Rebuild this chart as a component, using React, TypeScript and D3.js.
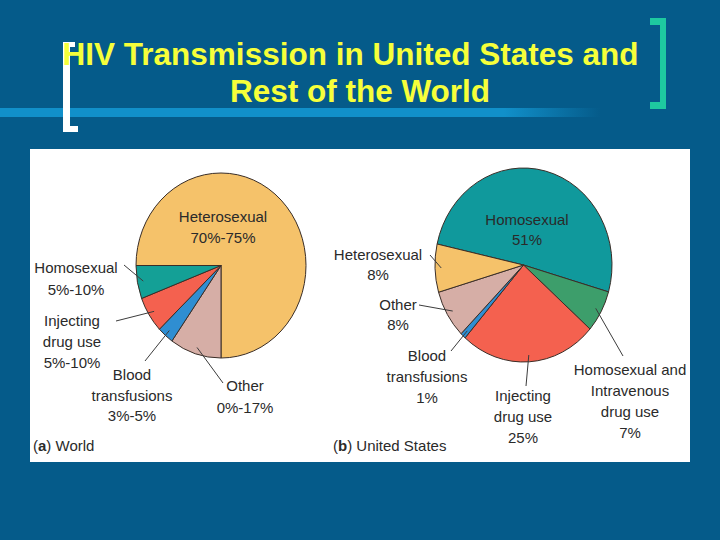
import React from "react";
import * as d3 from "d3";

// ---- Data ----
const titleLines = ["HIV Transmission in United States and", "Rest of the World"];

const worldCategories = ["Heterosexual", "Other", "Blood transfusions", "Injecting drug use", "Homosexual"];
const worldValues = [75, 9.8, 3.1, 6.3, 5.8];
const worldLabels = [
  ["Heterosexual", "70%-75%"],
  ["Other", "0%-17%"],
  ["Blood", "transfusions", "3%-5%"],
  ["Injecting", "drug use", "5%-10%"],
  ["Homosexual", "5%-10%"],
];

const usCategories = [
  "Homosexual",
  "Homosexual and Intravenous drug use",
  "Injecting drug use",
  "Blood transfusions",
  "Other",
  "Heterosexual",
];
const usValues = [51, 7, 25, 1, 8, 8];
const usLabels = [
  ["Homosexual", "51%"],
  ["Homosexual and", "Intravenous", "drug use", "7%"],
  ["Injecting", "drug use", "25%"],
  ["Blood", "transfusions", "1%"],
  ["Other", "8%"],
  ["Heterosexual", "8%"],
];

// ---- Styles / layout ----
const colorMap: Record<string, string> = {
  Heterosexual: "#f5c26a",
  Homosexual: "#14a096",
  "Homosexual and Intravenous drug use": "#3d9e6b",
  "Injecting drug use": "#f4614f",
  "Blood transfusions": "#2f8ed2",
  Other: "#d6aea6",
};
const usHomoColor = "#10999c";

type LabelLayout = { x: number; y: number; lh: number; outer?: [number, number] };

const worldLayout: LabelLayout[] = [
  { x: 223, y: 222, lh: 21 },
  { x: 245, y: 391, lh: 22, outer: [223, 383] },
  { x: 132, y: 380, lh: 20.5, outer: [145, 361] },
  { x: 72, y: 326, lh: 21, outer: [116, 321] },
  { x: 76, y: 273, lh: 22, outer: [124, 265] },
];
const usLayout: LabelLayout[] = [
  { x: 527, y: 225, lh: 20 },
  { x: 630, y: 375, lh: 21, outer: [623, 356] },
  { x: 523, y: 401, lh: 21, outer: [526, 386] },
  { x: 427, y: 361, lh: 21, outer: [451, 351] },
  { x: 398, y: 310, lh: 20, outer: [419, 305] },
  { x: 378, y: 260, lh: 20, outer: [430, 255] },
];

const FONT = "'Liberation Sans', Arial, Helvetica, sans-serif";
const deg = Math.PI / 180;

function Pie(props: {
  cx: number;
  cy: number;
  rx: number;
  ry: number;
  start: number;
  categories: string[];
  values: number[];
  labels: string[][];
  layout: LabelLayout[];
  colors: string[];
}) {
  const { cx, cy, rx, ry, start, categories, values, labels, layout, colors } = props;
  const sy = ry / rx;
  const pie = d3
    .pie<number>()
    .sort(null)
    .value((d) => d)
    .startAngle(start)
    .endAngle(start + 2 * Math.PI);
  const arcs = pie(values);
  const arc = d3.arc<d3.PieArcDatum<number>>().innerRadius(0).outerRadius(rx);
  const leaderArc = d3.arc<d3.PieArcDatum<number>>().innerRadius(rx * 0.93).outerRadius(rx * 0.93);
  return (
    <g>
      <g transform={`translate(${cx},${cy}) scale(1,${sy})`}>
        {arcs.map((a, i) => (
          <path
            key={categories[i]}
            d={arc(a) || ""}
            fill={colors[i]}
            stroke="#3a2e28"
            strokeWidth={1}
            vectorEffect="non-scaling-stroke"
            strokeLinejoin="round"
          />
        ))}
      </g>
      {arcs.map((a, i) => {
        const L = layout[i];
        if (!L.outer) return null;
        const [px, py] = leaderArc.centroid(a);
        return (
          <line
            key={"l" + i}
            x1={cx + px}
            y1={cy + py * sy}
            x2={L.outer[0]}
            y2={L.outer[1]}
            stroke="#3c3c3c"
            strokeWidth={1}
          />
        );
      })}
      {labels.map((lines, i) => {
        const L = layout[i];
        return (
          <text key={"t" + i} x={L.x} y={L.y} textAnchor="middle" fontFamily={FONT} fontSize={15} fill="#2a2a2a">
            {lines.map((ln, j) => (
              <tspan key={j} x={L.x} y={L.y + j * L.lh}>
                {ln}
              </tspan>
            ))}
          </text>
        );
      })}
    </g>
  );
}

export default function App() {
  const worldColors = worldCategories.map((c) => colorMap[c]);
  const usColors = usCategories.map((c) => (c === "Homosexual" ? usHomoColor : colorMap[c]));
  return (
    <svg
      width={720}
      height={540}
      style={{ position: "absolute", left: 0, top: 0, display: "block" }}
      xmlns="http://www.w3.org/2000/svg"
    >
      <defs>
        <linearGradient id="rule" x1="0" x2="1" y1="0" y2="0">
          <stop offset="0" stopColor="#1190ca" stopOpacity={1} />
          <stop offset="0.84" stopColor="#1190ca" stopOpacity={1} />
          <stop offset="1" stopColor="#1190ca" stopOpacity={0} />
        </linearGradient>
      </defs>
      <rect x={0} y={0} width={720} height={540} fill="#055b8a" />
      <rect x={0} y={108} width={600} height={9} fill="url(#rule)" />

      {/* white left bracket */}
      <rect x={63} y={42} width={7} height={90} fill="#ffffff" />
      <rect x={63} y={42} width={12} height={5} fill="#ffffff" />
      <rect x={63} y={126} width={15} height={6} fill="#ffffff" />

      {/* green right bracket */}
      <rect x={660} y={18} width={6} height={91} fill="#1ec9a0" />
      <rect x={650} y={18} width={16} height={7} fill="#1ec9a0" />
      <rect x={650} y={102} width={16} height={7} fill="#1ec9a0" />

      <text x={350.5} y={65} textAnchor="middle" fontFamily={FONT} fontWeight="bold" fontSize={31.5} fill="#f6ff3a">
        {titleLines[0]}
      </text>
      <text x={360} y={102} textAnchor="middle" fontFamily={FONT} fontWeight="bold" fontSize={31.5} fill="#f6ff3a">
        {titleLines[1]}
      </text>

      {/* white panel */}
      <rect x={30} y={149} width={660} height={313} fill="#ffffff" />

      <Pie
        cx={221}
        cy={265.5}
        rx={85}
        ry={92.5}
        start={-90 * deg}
        categories={worldCategories}
        values={worldValues}
        labels={worldLabels}
        layout={worldLayout}
        colors={worldColors}
      />
      <Pie
        cx={523.5}
        cy={265}
        rx={88.5}
        ry={97}
        start={-77.5 * deg}
        categories={usCategories}
        values={usValues}
        labels={usLabels}
        layout={usLayout}
        colors={usColors}
      />

      <text x={33} y={451} fontFamily={FONT} fontSize={15} fill="#2a2a2a">
        (<tspan fontWeight="bold">a</tspan>) World
      </text>
      <text x={333} y={451} fontFamily={FONT} fontSize={15} fill="#2a2a2a">
        (<tspan fontWeight="bold">b</tspan>) United States
      </text>
    </svg>
  );
}
